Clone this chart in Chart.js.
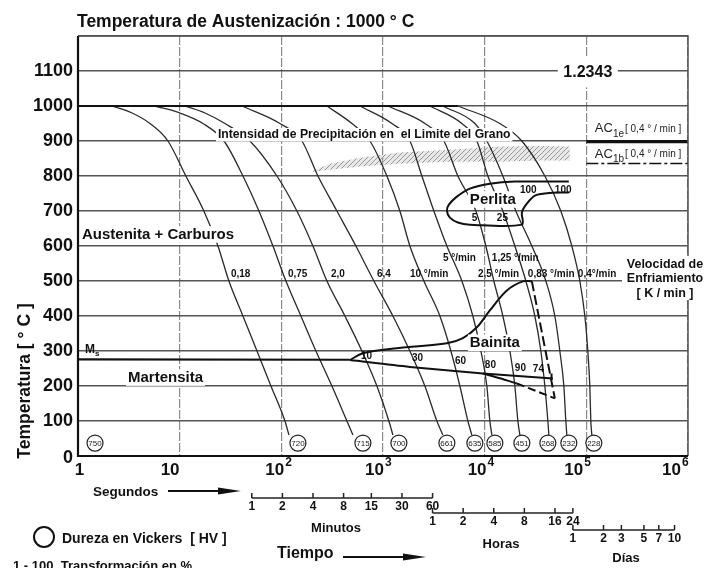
<!DOCTYPE html>
<html><head><meta charset="utf-8">
<script src="https://cdn.jsdelivr.net/npm/chart.js@4.4.1/dist/chart.umd.min.js"></script>
<style>html,body{margin:0;padding:0;background:#fff;}canvas{display:block;}</style>
</head><body>
<canvas id="c" width="718" height="568"></canvas>
<script>
// ---------- axis ticks ----------
const yTicks = [0,100,200,300,400,500,600,700,800,900,1000,1100];
const xDecades = [1,10,100,1000,10000,100000,1000000];
const minuteTicks = [1,2,4,8,15,30,60];
const hourTicks = [1,2,4,8,16,24];
const dayTicks = [1,2,3,5,7,10];

// ---------- cooling curves [time s, temperature °C] ----------
const c018 = [[2.16,1000],[3.40,980],[5.11,950],[7.67,900],[11.5,800],[17.3,700],[23.8,600],[30.5,500],[41.9,400],[57.6,300],[79.0,200],[108.5,100],[118.8,60]];
const c075 = [[5.72,1000],[10.07,980],[16.95,950],[27.3,900],[41.9,800],[60.2,700],[82.7,600],[111,500],[155.8,400],[218.9,300],[314.4,200],[441.6,100],[505.8,60]];
const c20  = [[11.27,1000],[17.73,980],[27.9,950],[49.1,900],[90.5,800],[142.3,700],[204.5,600],[280.8,500],[422.1,400],[620.2,300],[871,200],[1143,100],[1251,60]];
const c64  = [[41.0,1000],[96.9,950],[159.4,900],[229.1,800],[352.1,700],[541.4,600],[813.6,500],[1251,400],[1839,300],[2582,200],[3388,100],[3882,60]];
const c10m = [[280.8,1000],[494.5,950],[743.4,900],[1092,800],[1466,700],[1839,600],[2525,500],[3627,400],[4653,300],[5704,200],[6836,100],[7483,60]];
const c5m  = [[592.8,1000],[1223,950],[1839,900],[2413,800],[3166,700],[4250,600],[5969,500],[7656,400],[9176,300],[10510,200],[11250,100],[11770,60]];
const c25m = [[1117,1000],[2582,950],[3970,900],[5452,800],[8195,700],[10270,600],[12315,500],[15100,400],[17690,300],[19820,200],[21210,100],[22200,60]];
const c125m= [[2893,1000],[5969,950],[8380,900],[10750,800],[15100,700],[19820,600],[25420,500],[31160,400],[35690,300],[39080,200],[41830,100],[42790,60]];
const c083m= [[3882,1000],[8010,950],[10510,900],[15100,800],[20270,700],[29120,600],[39980,500],[49010,400],[54870,300],[60080,200],[62860,100],[64320,60]];
const c04m = [[5452,1000],[14110,950],[23220,900],[39080,800],[56140,700],[72010,600],[86300,500],[96670,400],[103400,300],[108200,200],[110700,100],[113300,60]];
const coolingCurves = [c018,c075,c20,c64,c10m,c5m,c25m,c125m,c083m,c04m];
const curveLabels = ['0,18','0,75','2,0','6,4','10 °/min','5 °/min','2,5 °/min','1,25 °/min','0,83 °/min','0,4°/min'];
const curveLabelTime = [31.9,116.1,307.5,871,1839,3882,8575,11770,26590,82480];
const curveLabelTemp = [519,519,519,519,519,564,519,564,519,519];

// ---------- hardness (HV) ----------
const hardness = [750,720,715,700,661,635,585,451,268,232,228];
const hardnessTime = [1.47,145.6,634.5,1433,4250,8010,12600,23220,41830,67280,118500];
const hardnessTemp = [37,37,37,37,37,37,37,37,37,37,37];

// ---------- transformation lines ----------
const austPlateau = [[1,1000],[5452,1000]];
const msLine = [[1,276],[472.6,275]];
const bainStart = [[472.6,274],[634.5,293.6],[1370,308],[4250,322],[6106,336.7],[8380,367.7],[11250,416],[16530,473],[23750,499],[29120,499]];
const bainEndSolid = [[472.6,274],[1839,254.6],[9600,235.7],[46840,221.5]];
const bainEndTick = [[45490,236],[45490,217]];
const bainLowBranch = [[9600,235.7],[14110,222],[20730,207.2]];
const bainLowDashed = [[20730,207.2],[49010,164.5]];
const bainRightDashed = [[29120,499],[49010,164.5]];
const perlite = [[67280,784],[19820,784],[11250,778],[7153,764],[5330,741],[4446,718],[4250,701],[4549,681],[5452,667],[7153,661],[23220,661],[23220,696],[25990,721],[31160,744],[40900,751],[67280,753]];
const precipUpper = [[204.5,815],[300.7,835],[592.8,852],[1466,867],[4549,875],[14110,884],[34900,886],[68820,884]];
const precipLower = [[204.5,812],[300.7,818],[592.8,827],[1466,835],[4549,841],[14110,841],[34900,844],[68820,844]];
const ac1e = [[100000,898],[1000000,898]];
const ac1b = [[100000,836],[1000000,836]];

// ---------- annotation texts ----------
const bainNums = ['10','30','60','80','90','74'];
const bainNumTime = [606,1924,5093,10046,19820,29790];
const bainNumTemp = [284,278,271,259,252,248];
const perlNums = ['5','25','100','100'];
const perlNumTime = [7483,13180,22200,49010];
const perlNumTemp = [678,678,758,758];
const regionLabels = [
  {text:'Austenita + Carburos', t:1.095, T:633, size:15},
  {text:'Intensidad de Precipitación en  el Limite del Grano', t:23.8, T:918, size:12.2},
  {text:'Perlita', t:7153, T:733, size:15},
  {text:'Bainita', t:7153, T:323.5, size:15},
  {text:'Martensita', t:3.10, T:224, size:15}
];
const steelLabel = {text:'1.2343', t:103400, T:1099};

// ---------- helpers ----------
const FF = '"Liberation Sans", Arial, Helvetica, sans-serif';
const font = (s, w) => `${w||'bold'} ${s}px ${FF}`;
const xy = arr => arr.map(p => ({x:p[0], y:p[1]}));

const cv = document.getElementById('c');
const ctx0 = cv.getContext('2d');
const pc = document.createElement('canvas'); pc.width = 5; pc.height = 5;
const pctx = pc.getContext('2d');
pctx.fillStyle = 'rgba(190,190,190,0.35)'; pctx.fillRect(0,0,5,5);
pctx.strokeStyle = '#999'; pctx.lineWidth = 1;
pctx.beginPath(); pctx.moveTo(0,5); pctx.lineTo(5,0); pctx.stroke();
const hatch = ctx0.createPattern(pc, 'repeat');

function line(data, opts) {
  return Object.assign({data: xy(data), borderColor:'#111', borderWidth:2, pointRadius:0, fill:false, tension:0, order:3}, opts||{});
}

const datasets = [];
datasets.push({data: hardness.map((h,i)=>({x:hardnessTime[i], y:hardnessTemp[i]})), showLine:false, pointRadius:8, pointBackgroundColor:'#fff', pointBorderColor:'#222', pointBorderWidth:1.2, order:0});
datasets.push(line(precipUpper, {borderWidth:0, order:6}));
datasets.push(line(precipLower, {borderWidth:0, fill:'-1', backgroundColor:hatch, order:6}));
coolingCurves.forEach(c => datasets.push(line(c, {borderColor:'#2a2a2a', borderWidth:1.3, cubicInterpolationMode:'monotone', order:5})));
datasets.push(line(austPlateau, {borderWidth:2.2}));
datasets.push(line(msLine, {borderWidth:2.2}));
datasets.push(line(bainStart, {tension:0.35}));
datasets.push(line(bainEndSolid, {tension:0.3}));
datasets.push(line(bainEndTick, {}));
datasets.push(line(bainLowBranch, {tension:0.3}));
datasets.push(line(bainLowDashed, {borderDash:[8,4]}));
datasets.push(line(bainRightDashed, {borderDash:[10,4]}));
datasets.push(line(perlite, {tension:0.3}));
datasets.push(line(ac1e, {borderWidth:3.2}));
datasets.push(line(ac1b, {borderWidth:1.5, borderDash:[12,3,3,3]}));

function txt(ctx, s, x, y, size, align, base, weight, color) {
  ctx.font = font(size, weight);
  ctx.textAlign = align || 'left';
  ctx.textBaseline = base || 'middle';
  ctx.fillStyle = color || '#111';
  ctx.fillText(s, x, y);
}
function boxTxt(ctx, s, x, y, size, align) {
  ctx.font = font(size);
  const w = ctx.measureText(s).width;
  const x0 = align === 'center' ? x - w/2 : x;
  ctx.fillStyle = '#fff';
  ctx.fillRect(x0 - 2, y - size*0.55, w + 4, size*1.1);
  txt(ctx, s, x, y, size, align);
}
function arrow(ctx, x1, x2, y) {
  ctx.strokeStyle = '#111'; ctx.lineWidth = 2;
  ctx.beginPath(); ctx.moveTo(x1, y); ctx.lineTo(x2 - 18, y); ctx.stroke();
  ctx.fillStyle = '#111';
  ctx.beginPath(); ctx.moveTo(x2 - 23, y - 3.5); ctx.lineTo(x2, y); ctx.lineTo(x2 - 23, y + 3.5); ctx.closePath(); ctx.fill();
}

const overlay = {
  id: 'overlay',
  afterDatasetsDraw(chart) {
    const ctx = chart.ctx, xs = chart.scales.x, ys = chart.scales.y;
    const X = v => xs.getPixelForValue(v), Y = v => ys.getPixelForValue(v);
    const a = chart.chartArea;
    ctx.save();
    ctx.strokeStyle = '#555'; ctx.lineWidth = 1.5;
    ctx.beginPath(); ctx.moveTo(a.left, a.top); ctx.lineTo(a.right, a.top); ctx.lineTo(a.right, a.bottom); ctx.stroke();
    ctx.strokeStyle = '#111'; ctx.lineWidth = 2.2;
    ctx.beginPath(); ctx.moveTo(a.left, a.top); ctx.lineTo(a.left, a.bottom); ctx.lineTo(a.right, a.bottom); ctx.stroke();
    const gx = X(steelLabel.t), gy = Y(steelLabel.T);
    ctx.fillStyle = '#fff'; ctx.fillRect(gx - 30, gy - 15, 60, 31);
    txt(ctx, steelLabel.text, gx, gy + 1, 16, 'center');
    regionLabels.forEach(r => boxTxt(ctx, r.text, X(r.t), Y(r.T), r.size, 'left'));
    curveLabels.forEach((s,i) => txt(ctx, s, X(curveLabelTime[i]), Y(curveLabelTemp[i]), 10, 'left'));
    bainNums.forEach((s,i) => txt(ctx, s, X(bainNumTime[i]), Y(bainNumTemp[i]), 10, 'left'));
    perlNums.forEach((s,i) => txt(ctx, s, X(perlNumTime[i]), Y(perlNumTemp[i]), 10, 'left'));
    hardness.forEach((h,i) => txt(ctx, String(h), X(hardnessTime[i]), Y(hardnessTemp[i]) + 0.5, 8, 'center', 'middle', 'normal', '#222'));
    const mx = X(1.172), my = Y(305);
    txt(ctx, 'M', mx, my, 12, 'left');
    txt(ctx, 's', mx + 10, my + 5, 8, 'left');
    [['1e', 935], ['1b', 861]].forEach(p => {
      const ax = X(121200), ay = Y(p[1]);
      txt(ctx, 'AC', ax, ay, 13, 'left', 'middle', 'normal', '#222');
      ctx.font = font(13, 'normal'); const w1 = ctx.measureText('AC').width;
      txt(ctx, p[0], ax + w1, ay + 5, 10, 'left', 'middle', 'normal', '#222');
      ctx.font = font(10, 'normal'); const w2 = ctx.measureText(p[0]).width;
      txt(ctx, '[ 0,4 ° / min ]', ax + w1 + w2 + 1, ay, 10, 'left', 'middle', 'normal', '#222');
    });
    ctx.restore();
  },
  afterDraw(chart) {
    const ctx = chart.ctx, xs = chart.scales.x, ys = chart.scales.y;
    const X = v => xs.getPixelForValue(v), Y = v => ys.getPixelForValue(v);
    ctx.save();
    txt(ctx, 'Temperatura de Austenización : 1000 ° C', 77, 22, 17.5, 'left');
    yTicks.forEach(v => txt(ctx, String(v), 73, Y(v) + (v === 0 ? 2 : 0), 18, 'right'));
    ctx.save(); ctx.translate(25, 381); ctx.rotate(-Math.PI/2);
    txt(ctx, 'Temperatura [ ° C ]', 0, 0, 17.5, 'center'); ctx.restore();
    const shifts = [1.5,-19,-16,-18,-17,-22,-26];
    xDecades.forEach((v,i) => {
      const px = X(v);
      if (i === 0) { txt(ctx, '1', px + shifts[0], 470, 17, 'center'); return; }
      txt(ctx, '10', px + shifts[i], 470, 17, 'left');
      if (i >= 2) { ctx.font = font(17); const w = ctx.measureText('10').width; txt(ctx, String(i), px + shifts[i] + w + 1, 463, 12, 'left'); }
    });
    txt(ctx, 'Segundos', 93, 492, 13.5, 'left');
    arrow(ctx, 168, 241, 491);
    const mini = (vals, mult, yl, yt) => {
      const px = vals.map(v => X(v*mult) - 7);
      ctx.strokeStyle = '#222'; ctx.lineWidth = 1.5;
      ctx.beginPath(); ctx.moveTo(px[0], yl); ctx.lineTo(px[px.length-1], yl); ctx.stroke();
      px.forEach((p,i) => {
        ctx.beginPath(); ctx.moveTo(p, yl - 5); ctx.lineTo(p, yl); ctx.stroke();
        txt(ctx, String(vals[i]), p, yt, 12, 'center');
      });
    };
    mini(minuteTicks, 60, 498, 507);
    mini(hourTicks, 3600, 513, 522);
    mini(dayTicks, 86400, 530, 538.5);
    txt(ctx, 'Minutos', 336, 528, 13, 'center');
    txt(ctx, 'Horas', 501, 544, 13, 'center');
    txt(ctx, 'Días', 626, 558, 13, 'center');
    txt(ctx, 'Tiempo', 277, 554, 16, 'left');
    arrow(ctx, 343, 426, 557);
    ctx.strokeStyle = '#111'; ctx.lineWidth = 2;
    ctx.beginPath(); ctx.arc(44, 537, 10, 0, Math.PI*2); ctx.stroke();
    txt(ctx, 'Dureza en Vickers  [ HV ]', 62, 539, 14, 'left');
    txt(ctx, '1 - 100  Transformación en %', 13, 570, 13, 'left', 'alphabetic');
    ctx.fillStyle = '#fff'; ctx.fillRect(622, 256, 96, 44);
    txt(ctx, 'Velocidad de', 665, 265, 12.5, 'center');
    txt(ctx, 'Enfriamiento', 665, 279, 12.5, 'center');
    txt(ctx, '[ K / min ]', 665, 294, 12.5, 'center');
    ctx.restore();
  }
};

new Chart(cv, {
  type: 'line',
  data: { datasets },
  plugins: [overlay],
  options: {
    responsive: false, animation: false, devicePixelRatio: 1,
    layout: { padding: { top: 36, right: 30, left: 0, bottom: 0 } },
    plugins: { legend: { display: false }, tooltip: { enabled: false } },
    scales: {
      x: {
        type: 'logarithmic', min: 1, max: 1000000,
        afterBuildTicks: s => { s.ticks = xDecades.map(v => ({value: v})); },
        ticks: { display: false },
        grid: { color: '#8a8a8a', lineWidth: 1.2, drawTicks: false },
        border: { display: false, dash: [9,2] },
        afterFit: s => { s.height = 112; }
      },
      y: {
        type: 'linear', min: 0, max: 1200,
        afterBuildTicks: s => { s.ticks = yTicks.concat([1200]).map(v => ({value: v})); },
        ticks: { display: false },
        grid: { color: '#555', lineWidth: 1.4, drawTicks: false },
        border: { display: false },
        afterFit: s => { s.width = 78; }
      }
    }
  }
});
</script>
</body></html>
